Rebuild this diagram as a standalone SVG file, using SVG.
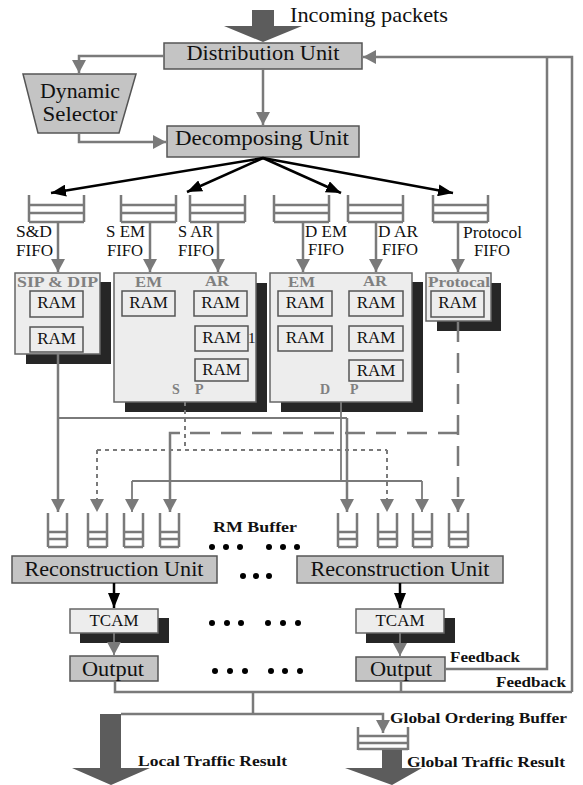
<svg xmlns="http://www.w3.org/2000/svg" width="583" height="785" viewBox="0 0 583 785">
<style>
.t{font-family:"Liberation Serif","Times New Roman",serif;fill:#111}
.b{font-family:"Liberation Serif","Times New Roman",serif;font-weight:bold;fill:#111;font-size:14px}
.g{font-family:"Liberation Serif","Times New Roman",serif;font-weight:bold;fill:#808080;font-size:14px}
.box{fill:#c4c4c4;stroke:#555;stroke-width:1.5}
.lt{fill:#ededed;stroke:#666;stroke-width:1.5}
.ram{fill:#ededed;stroke:#555;stroke-width:1.5}
.sh{fill:#262626}
.ln{fill:none;stroke:#7a7a7a;stroke-width:2.5}
.thin{fill:none;stroke:#7a7a7a;stroke-width:1.8}
.dot{fill:none;stroke:#7a7a7a;stroke-width:2;stroke-dasharray:4,4}
.dash{fill:none;stroke:#7a7a7a;stroke-width:2.5;stroke-dasharray:20,11}
.blk{fill:none;stroke:#000;stroke-width:2.5}
.fifo{fill:none;stroke:#7a7a7a;stroke-width:2.5}
.big{fill:#5c5c5c}
</style>
<defs>
<marker id="ag" markerUnits="userSpaceOnUse" markerWidth="14" markerHeight="14" refX="13" refY="7" orient="auto"><path d="M0,0 L13,7 L0,14 z" fill="#7a7a7a"/></marker>
<marker id="ab" markerUnits="userSpaceOnUse" markerWidth="16" markerHeight="12" refX="15" refY="6" orient="auto"><path d="M0,0 L15,6 L0,12 z" fill="#000"/></marker>
<path id="hf" d="M0,0 V27 M55,0 V27 M0,10 H55 M0,18 H55 M0,27 H55"/>
<path id="vf" d="M0,0 V34 M19,0 V34 M0,19 H19 M0,26 H19 M0,34 H19"/>
</defs>

<g id="incoming">
<polygon class="big" points="252,10 274,10 274,26 302,26 263,42 224,26 252,26"/>
<text class="t" x="290" y="22" font-size="21" textLength="158" lengthAdjust="spacingAndGlyphs">Incoming packets</text>
</g>

<g id="distribution">
<rect class="box" x="164" y="43" width="198" height="26"/>
<text class="t" x="263" y="60" font-size="21" text-anchor="middle" textLength="153" lengthAdjust="spacingAndGlyphs">Distribution Unit</text>
</g>

<g id="selector">
<polygon class="box" points="23,74 136,74 119,133 38,133"/>
<text class="t" x="80" y="98" font-size="21" text-anchor="middle" textLength="80" lengthAdjust="spacingAndGlyphs">Dynamic</text>
<text class="t" x="80" y="121" font-size="21" text-anchor="middle" textLength="75" lengthAdjust="spacingAndGlyphs">Selector</text>
</g>

<g id="decomposing">
<rect class="box" x="167" y="126" width="192" height="31"/>
<text class="t" x="262" y="145" font-size="21" text-anchor="middle" textLength="174" lengthAdjust="spacingAndGlyphs">Decomposing  Unit</text>
</g>

<g id="fifo-sd">
<use href="#hf" class="fifo" x="29" y="195"/>
<text class="t" x="16" y="237" font-size="17" textLength="36" lengthAdjust="spacingAndGlyphs">S&amp;D</text>
<text class="t" x="16" y="256" font-size="17" textLength="37" lengthAdjust="spacingAndGlyphs">FIFO</text>
</g>
<g id="fifo-sem">
<use href="#hf" class="fifo" x="121" y="195"/>
<text class="t" x="106" y="237" font-size="17" textLength="39" lengthAdjust="spacingAndGlyphs">S EM</text>
<text class="t" x="107" y="256" font-size="17" textLength="36" lengthAdjust="spacingAndGlyphs">FIFO</text>
</g>
<g id="fifo-sar">
<use href="#hf" class="fifo" x="190" y="195"/>
<text class="t" x="178" y="237" font-size="17" textLength="35" lengthAdjust="spacingAndGlyphs">S AR</text>
<text class="t" x="178" y="256" font-size="17" textLength="36" lengthAdjust="spacingAndGlyphs">FIFO</text>
</g>
<g id="fifo-dem">
<use href="#hf" class="fifo" x="274" y="195"/>
<text class="t" x="305" y="237" font-size="17" textLength="42" lengthAdjust="spacingAndGlyphs">D EM</text>
<text class="t" x="308" y="255" font-size="17" textLength="36" lengthAdjust="spacingAndGlyphs">FIFO</text>
</g>
<g id="fifo-dar">
<use href="#hf" class="fifo" x="348" y="195"/>
<text class="t" x="378" y="237" font-size="17" textLength="40" lengthAdjust="spacingAndGlyphs">D AR</text>
<text class="t" x="382" y="255" font-size="17" textLength="36" lengthAdjust="spacingAndGlyphs">FIFO</text>
</g>
<g id="fifo-proto">
<use href="#hf" class="fifo" x="433" y="195"/>
<text class="t" x="463" y="238" font-size="17" textLength="59" lengthAdjust="spacingAndGlyphs">Protocol</text>
<text class="t" x="474" y="256" font-size="17" textLength="36" lengthAdjust="spacingAndGlyphs">FIFO</text>
</g>

<g id="block-sipdip">
<rect class="sh" x="26" y="282" width="85" height="82"/>
<rect class="lt" x="15" y="273" width="85" height="81"/>
<text class="g" x="17" y="287" textLength="81" lengthAdjust="spacingAndGlyphs">SIP &amp; DIP</text>
<rect class="ram" x="30" y="291" width="53" height="26"/>
<text class="t" x="56.5" y="308" font-size="17" text-anchor="middle">RAM</text>
<rect class="ram" x="30" y="327" width="53" height="25"/>
<text class="t" x="56.5" y="344" font-size="17" text-anchor="middle">RAM</text>
</g>

<g id="block-s">
<rect class="sh" x="125" y="283" width="142" height="129"/>
<rect class="lt" x="114" y="273" width="142" height="129"/>
<text class="g" x="135" y="287" textLength="27" lengthAdjust="spacingAndGlyphs">EM</text>
<text class="g" x="205" y="286" textLength="24" lengthAdjust="spacingAndGlyphs">AR</text>
<rect class="ram" x="122" y="291" width="53" height="25"/>
<text class="t" x="148.5" y="308" font-size="17" text-anchor="middle">RAM</text>
<rect class="ram" x="194" y="291" width="53" height="25"/>
<text class="t" x="220.5" y="308" font-size="17" text-anchor="middle">RAM</text>
<rect class="ram" x="195" y="326" width="53" height="25"/>
<text class="t" x="221.5" y="343" font-size="17" text-anchor="middle">RAM</text>
<text class="t" x="248" y="343" font-size="15">1</text>
<rect class="ram" x="195" y="359" width="53" height="22"/>
<text class="t" x="221.5" y="375" font-size="17" text-anchor="middle">RAM</text>
<text class="g" x="172" y="394">S</text>
<text class="g" x="195" y="394">P</text>
</g>

<g id="block-d">
<rect class="sh" x="281" y="282" width="142" height="130"/>
<rect class="lt" x="270" y="273" width="142" height="129"/>
<text class="g" x="288" y="287" textLength="27" lengthAdjust="spacingAndGlyphs">EM</text>
<text class="g" x="363" y="286" textLength="24" lengthAdjust="spacingAndGlyphs">AR</text>
<rect class="ram" x="278" y="291" width="54" height="25"/>
<text class="t" x="305" y="308" font-size="17" text-anchor="middle">RAM</text>
<rect class="ram" x="278" y="326" width="54" height="25"/>
<text class="t" x="305" y="343" font-size="17" text-anchor="middle">RAM</text>
<rect class="ram" x="349" y="291" width="54" height="25"/>
<text class="t" x="376" y="308" font-size="17" text-anchor="middle">RAM</text>
<rect class="ram" x="349" y="326" width="54" height="25"/>
<text class="t" x="376" y="343" font-size="17" text-anchor="middle">RAM</text>
<rect class="ram" x="349" y="360" width="54" height="21"/>
<text class="t" x="376" y="376" font-size="17" text-anchor="middle">RAM</text>
<text class="g" x="320" y="394">D</text>
<text class="g" x="350" y="394">P</text>
</g>

<g id="block-proto">
<rect class="sh" x="437" y="283" width="64" height="48"/>
<rect class="lt" x="426" y="273" width="65" height="48"/>
<text class="g" x="428" y="287" textLength="62" lengthAdjust="spacingAndGlyphs">Protocal</text>
<rect class="ram" x="431" y="291" width="53" height="26"/>
<text class="t" x="457.5" y="308" font-size="17" text-anchor="middle">RAM</text>
</g>

<g id="rm-buffers-left">
<use href="#vf" class="fifo" x="48" y="513"/>
<use href="#vf" class="fifo" x="88" y="513"/>
<use href="#vf" class="fifo" x="124" y="513"/>
<use href="#vf" class="fifo" x="160" y="513"/>
</g>
<g id="rm-buffers-right">
<use href="#vf" class="fifo" x="338" y="513"/>
<use href="#vf" class="fifo" x="378" y="513"/>
<use href="#vf" class="fifo" x="413" y="513"/>
<use href="#vf" class="fifo" x="449" y="513"/>
</g>
<g id="rm-label">
<text class="b" x="213" y="532" textLength="84" lengthAdjust="spacingAndGlyphs">RM  Buffer</text>
</g>

<g id="ellipsis" fill="#000">
<circle cx="212" cy="547" r="3"/><circle cx="226" cy="547" r="3"/><circle cx="240" cy="547" r="3"/>
<circle cx="269" cy="547" r="3"/><circle cx="283" cy="547" r="3"/><circle cx="297" cy="547" r="3"/>
<circle cx="243" cy="576" r="3"/><circle cx="256" cy="576" r="3"/><circle cx="269" cy="576" r="3"/>
<circle cx="212" cy="623" r="3"/><circle cx="227" cy="623" r="3"/><circle cx="241" cy="623" r="3"/>
<circle cx="268" cy="623" r="3"/><circle cx="283" cy="623" r="3"/><circle cx="298" cy="623" r="3"/>
<circle cx="215" cy="671" r="3"/><circle cx="230" cy="671" r="3"/><circle cx="245" cy="671" r="3"/>
<circle cx="271" cy="671" r="3"/><circle cx="285" cy="671" r="3"/><circle cx="300" cy="671" r="3"/>
</g>

<g id="recon-left">
<rect class="box" x="12" y="556" width="205" height="27"/>
<text class="t" x="114" y="576" font-size="20" text-anchor="middle" textLength="179" lengthAdjust="spacingAndGlyphs">Reconstruction Unit</text>
</g>
<g id="recon-right">
<rect class="box" x="297" y="556" width="206" height="27"/>
<text class="t" x="400" y="576" font-size="20" text-anchor="middle" textLength="179" lengthAdjust="spacingAndGlyphs">Reconstruction Unit</text>
</g>

<g id="tcam-left">
<rect class="sh" x="80" y="618" width="89" height="25"/>
<rect class="lt" x="70" y="609" width="88" height="24"/>
<text class="t" x="114" y="626" font-size="17" text-anchor="middle" textLength="49" lengthAdjust="spacingAndGlyphs">TCAM</text>
</g>
<g id="tcam-right">
<rect class="sh" x="366" y="618" width="89" height="25"/>
<rect class="lt" x="356" y="609" width="88" height="24"/>
<text class="t" x="400" y="626" font-size="17" text-anchor="middle" textLength="49" lengthAdjust="spacingAndGlyphs">TCAM</text>
</g>

<g id="output-left">
<rect class="box" x="70" y="656" width="88" height="25"/>
<text class="t" x="113" y="676" font-size="21" text-anchor="middle" textLength="62" lengthAdjust="spacingAndGlyphs">Output</text>
</g>
<g id="output-right">
<rect class="box" x="356" y="657" width="89" height="24"/>
<text class="t" x="401" y="676" font-size="21" text-anchor="middle" textLength="62" lengthAdjust="spacingAndGlyphs">Output</text>
</g>

<g id="global-buffer">
<path class="fifo" d="M358,727 V750 M408,727 V750 M358,736 H408 M358,743 H408 M358,749 H408"/>
<text class="b" x="390" y="723" textLength="177" lengthAdjust="spacingAndGlyphs">Global Ordering Buffer</text>
</g>

<g id="local-result">
<polygon class="big" points="100,714 121,714 121,768 150,768 111,785 72,768 100,768"/>
<text class="b" x="138" y="766" textLength="149" lengthAdjust="spacingAndGlyphs">Local Traffic Result</text>
</g>
<g id="global-result">
<polygon class="big" points="382,750 402,750 402,768 422,768 392,785 345,768 382,768"/>
<text class="b" x="407" y="767" textLength="158" lengthAdjust="spacingAndGlyphs">Global Traffic Result</text>
</g>

<g id="connectors">
<path class="ln" d="M164,56 H79 V73" marker-end="url(#ag)"/>
<path class="ln" d="M79,133 V142 H166" marker-end="url(#ag)"/>
<path class="ln" d="M263,69 V125" marker-end="url(#ag)"/>
<path class="ln" d="M572,692 V57 H363" marker-end="url(#ag)"/>
<path class="ln" d="M445,669 H547 V57"/>

<path class="blk" d="M263,158 L51,193" marker-end="url(#ab)"/>
<path class="blk" d="M263,158 L187,192" marker-end="url(#ab)"/>
<path class="blk" d="M263,158 L341,193" marker-end="url(#ab)"/>
<path class="blk" d="M263,158 L453,193" marker-end="url(#ab)"/>

<path class="ln" d="M58,222 V272" marker-end="url(#ag)"/>
<path class="ln" d="M150,222 V272" marker-end="url(#ag)"/>
<path class="ln" d="M218,222 V272" marker-end="url(#ag)"/>
<path class="ln" d="M303,222 V272" marker-end="url(#ag)"/>
<path class="ln" d="M376,222 V272" marker-end="url(#ag)"/>
<path class="ln" d="M458,222 V272" marker-end="url(#ag)"/>

<path class="ln" d="M58,354 V512" marker-end="url(#ag)"/>
<path class="thin" d="M58,418 H347"/>
<path class="ln" d="M347,418 V512" marker-end="url(#ag)"/>

<path class="dot" d="M185,402 V450"/>
<path class="dot" d="M97,450 H387"/>
<path class="dot" d="M97,450 V512" marker-end="url(#ag)"/>
<path class="dot" d="M387,450 V512" marker-end="url(#ag)"/>

<path class="thin" d="M341,402 V481"/>
<path class="thin" d="M132,481 H422"/>
<path class="thin" d="M132,481 V512" marker-end="url(#ag)"/>
<path class="thin" d="M422,481 V512" marker-end="url(#ag)"/>

<path class="dash" d="M458,322 V512" marker-end="url(#ag)"/>
<path class="dash" d="M458,433 H180"/>
<path class="ln" d="M180,433 H170 V512" marker-end="url(#ag)"/>

<path class="blk" d="M114,583 V608" marker-end="url(#ab)"/>
<path class="blk" d="M400,583 V608" marker-end="url(#ab)"/>
<path class="thin" d="M114,633 V655" marker-end="url(#ag)"/>
<path class="thin" d="M400,633 V656" marker-end="url(#ag)"/>

<path class="ln" d="M115,681 V692 H572"/>
<path class="ln" d="M401,681 V692"/>
<path class="ln" d="M253,692 V714"/>
<path class="ln" d="M121,714 H383 V733" marker-end="url(#ag)"/>
</g>

<g id="feedback-labels">
<text class="b" x="450" y="662" textLength="70" lengthAdjust="spacingAndGlyphs">Feedback</text>
<text class="b" x="496" y="687" textLength="70" lengthAdjust="spacingAndGlyphs">Feedback</text>
</g>
</svg>
